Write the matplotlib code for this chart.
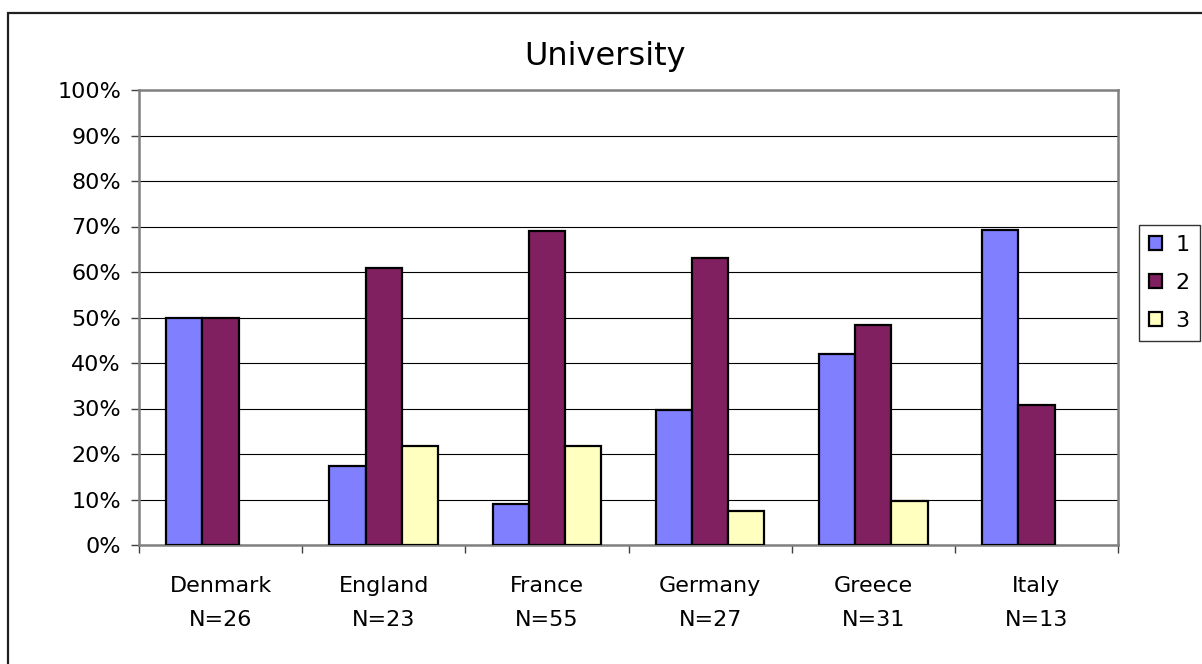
import matplotlib
matplotlib.use("Agg")
import matplotlib.pyplot as plt
from matplotlib.patches import Rectangle, Patch
from matplotlib.ticker import FixedLocator, PercentFormatter
import numpy as np

# Share of respondents per answer, by country (percent)
countries = ["Denmark", "England", "France", "Germany", "Greece", "Italy"]
sample_sizes = [26, 23, 55, 27, 31, 13]
answer_1 = [50.0, 17.4, 9.1, 29.6, 41.9, 69.2]
answer_2 = [50.0, 60.9, 69.1, 63.0, 48.4, 30.8]
answer_3 = [0.0, 21.7, 21.8, 7.4, 9.7, 0.0]
series_names = ["1", "2", "3"]
series_colors = ["#8080FF", "#802060", "#FFFFC0"]

W, H = 1202, 664
fig = plt.figure(figsize=(W / 100, H / 100), dpi=100)
fig.patch.set_facecolor("white")

# Outer chart frame (open to the right and bottom)
fig.patches.append(Rectangle((8 / W, -0.2), 1.5, 1 - 13 / H + 0.2,
                             transform=fig.transFigure, fill=False,
                             edgecolor="#202020", linewidth=1.6, zorder=0))

left, right, top, bottom = 139, 1118, 90, 545
ax = fig.add_axes([left / W, 1 - bottom / H, (right - left) / W, (bottom - top) / H])

x = np.arange(len(countries))
width = 1 / 4.5
series = [answer_1, answer_2, answer_3]
for i, (vals, name, col) in enumerate(zip(series, series_names, series_colors)):
    bars = ax.bar(x + (i - 1) * width, vals, width, color=col, edgecolor="black",
                  linewidth=1.6, label=name, zorder=3)
    # empty categories get no visible bar
    for b, v in zip(bars, vals):
        if v == 0:
            b.set_visible(False)

ax.set_xlim(-0.5, len(countries) - 0.5)
ax.set_ylim(0, 100)
ax.set_yticks(np.arange(0, 101, 10))
ax.yaxis.set_major_formatter(PercentFormatter(decimals=0))
ax.yaxis.grid(True, color="black", linewidth=0.8, zorder=1)
ax.set_axisbelow(True)

for s in ax.spines.values():
    s.set_color("#808080")
    s.set_linewidth(1.8)

ax.tick_params(axis="y", direction="out", length=6, width=1, color="#404040",
               pad=7, labelsize=16)
ax.set_xticks(x)
ax.set_xticklabels([f"{c}\nN={n}" for c, n in zip(countries, sample_sizes)],
                   fontsize=16, linespacing=1.85)
ax.tick_params(axis="x", which="major", length=0, pad=22.5)
ax.xaxis.set_minor_locator(FixedLocator(np.arange(-0.5, len(countries), 1.0)))
ax.tick_params(axis="x", which="minor", direction="out", length=6, width=1,
               color="#404040")

fig.text(605 / W, 1 - 65 / H, "University", ha="center", va="baseline",
         fontsize=23)

handles = [Patch(facecolor=c, edgecolor="black", linewidth=1.6) for c in series_colors]
leg = fig.legend(handles, series_names, loc="upper left",
                 bbox_to_anchor=(1139 / W, 1 - 225 / H), fontsize=16,
                 frameon=True, fancybox=False, shadow=False,
                 handlelength=0.6, handleheight=0.6, handletextpad=0.6,
                 labelspacing=0.8, borderpad=0.45, borderaxespad=0)
leg.get_frame().set_edgecolor("black")
leg.get_frame().set_linewidth(1.0)

fig.savefig("out.png", dpi=100, facecolor="white")
